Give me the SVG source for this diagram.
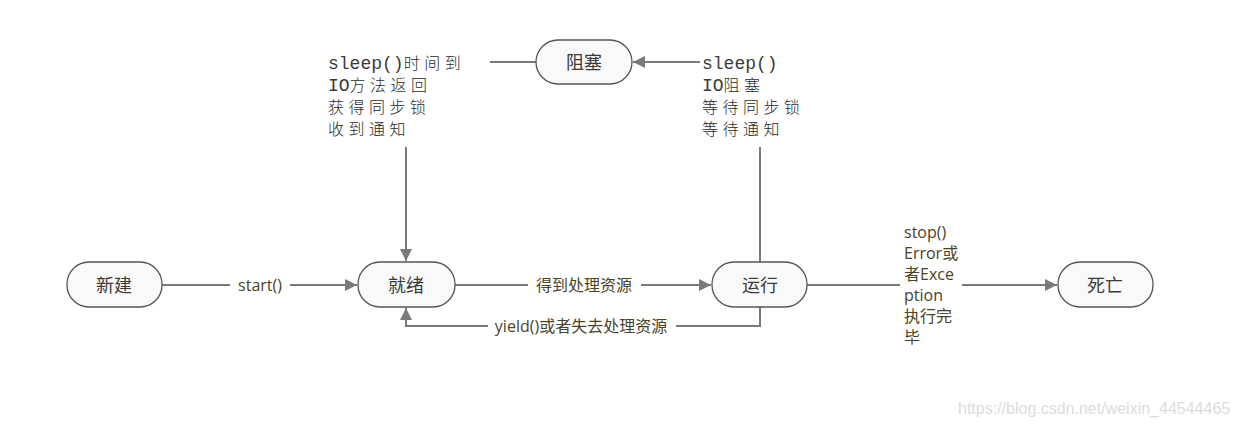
<svg xmlns="http://www.w3.org/2000/svg" width="1239" height="426" viewBox="0 0 1239 426">
<style>
.node rect{fill:#f9f9f9;stroke:#555;stroke-width:1.3}
.node text{font-family:"Noto Sans CJK SC","Noto Sans",sans-serif;font-size:18px;fill:#3a3a3a;text-anchor:middle;dominant-baseline:central}
.conn line,.conn polyline{stroke:#7a7a7a;stroke-width:2;fill:none}
.lbl{font-family:"Open Sans","Noto Sans CJK SC",sans-serif;font-size:16px;fill:#4a4326}
.blk{font-family:"Noto Sans CJK SC",sans-serif;font-size:16px;font-weight:300;letter-spacing:4.5px;fill:#2a2a2a}
.mono{font-family:"Liberation Mono",monospace;font-size:18px;letter-spacing:0;fill:#3a3a3a}
.wm{font-family:"Liberation Sans",Arial,sans-serif;font-size:16px;fill:#dcdcdc}
</style>
<defs>
<marker id="arr" viewBox="0 0 10 10" refX="10" refY="5" markerWidth="6" markerHeight="6" orient="auto" markerUnits="strokeWidth">
<path d="M0,0 L10,5 L0,10 z" fill="#7a7a7a"/>
</marker>
</defs>
<rect width="1239" height="426" fill="#fff"/>
<g class="conn" id="connectors">
<line x1="162" y1="285" x2="230" y2="285"/>
<line x1="290" y1="285" x2="357" y2="285" marker-end="url(#arr)"/>
<line x1="455" y1="285" x2="528" y2="285"/>
<line x1="641" y1="285" x2="711" y2="285" marker-end="url(#arr)"/>
<line x1="807" y1="285" x2="900" y2="285"/>
<line x1="962" y1="285" x2="1057" y2="285" marker-end="url(#arr)"/>
<polyline points="760,307 760,326 676,326"/>
<polyline points="488,326 406,326 406,308" marker-end="url(#arr)"/>
<line x1="490" y1="62" x2="536" y2="62"/>
<line x1="700" y1="62" x2="633" y2="62" marker-end="url(#arr)"/>
<line x1="406" y1="147" x2="406" y2="261" marker-end="url(#arr)"/>
<line x1="760" y1="147" x2="760" y2="262"/>
</g>
<g class="labels">
<text class="lbl" x="260" y="291" text-anchor="middle">start()</text>
<text class="lbl" x="584" y="291" text-anchor="middle">得到处理资源</text>
<text class="lbl" x="581" y="332" text-anchor="middle">yield()或者失去处理资源</text>
<text class="lbl" x="904">
<tspan x="904" y="238">stop()</tspan>
<tspan x="904" y="259">Error或</tspan>
<tspan x="904" y="280">者Exce</tspan>
<tspan x="904" y="301">ption</tspan>
<tspan x="904" y="322">执行完</tspan>
<tspan x="904" y="343">毕</tspan>
</text>
<text class="blk">
<tspan x="328" y="69"><tspan class="mono">sleep()</tspan>时间到</tspan>
<tspan x="328" y="91"><tspan class="mono">IO</tspan>方法返回</tspan>
<tspan x="328" y="113">获得同步锁</tspan>
<tspan x="328" y="135">收到通知</tspan>
</text>
<text class="blk">
<tspan x="702" y="69" class="mono">sleep()</tspan>
<tspan x="702" y="91"><tspan class="mono">IO</tspan>阻塞</tspan>
<tspan x="702" y="113">等待同步锁</tspan>
<tspan x="702" y="135">等待通知</tspan>
</text>
</g>
<g class="node" id="node-new"><rect x="67" y="262" width="95" height="45" rx="22"/><text x="114" y="284">新建</text></g>
<g class="node" id="node-ready"><rect x="358" y="262" width="97" height="45" rx="22"/><text x="406" y="284">就绪</text></g>
<g class="node" id="node-running"><rect x="712" y="262" width="95" height="45" rx="22"/><text x="760" y="284">运行</text></g>
<g class="node" id="node-dead"><rect x="1058" y="262" width="95" height="45" rx="22"/><text x="1105" y="284">死亡</text></g>
<g class="node" id="node-blocked"><rect x="536" y="40" width="96" height="44" rx="22"/><text x="584" y="61">阻塞</text></g>
<text class="wm" x="958" y="414">https://blog.csdn.net/weixin_44544465</text>
</svg>
